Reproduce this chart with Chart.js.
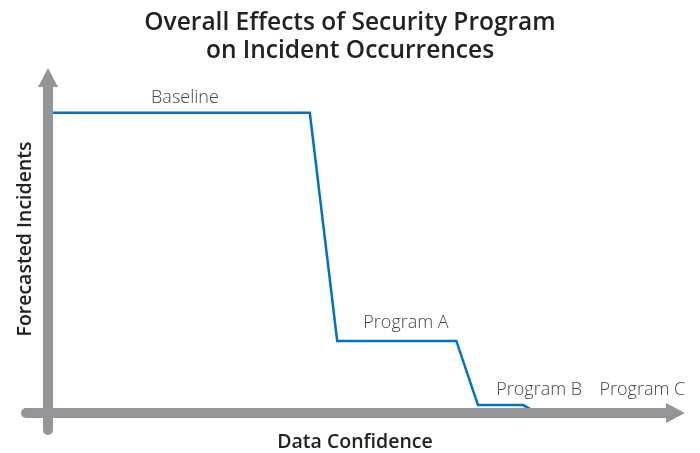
<!DOCTYPE html>
<html>
<head>
<meta charset="utf-8">
<title>Overall Effects of Security Program</title>
<script src="https://cdn.jsdelivr.net/npm/chart.js@4"></script>
<style>
  html, body { margin: 0; padding: 0; background: #fff; }
  #chart { display: block; }
</style>
</head>
<body>
<canvas id="chart" width="700" height="453"></canvas>
<script>
// step line, arbitrary units (0..100 on both axes)
const confidence = [0, 41.1, 45.4, 64.1, 67.5, 74.6, 76.8, 95];
const incidents = [87, 87, 20.9, 20.9, 2.3, 2.3, 0, 0];

// level labels, placed in data units
const levelNames = ["Baseline", "Program A", "Program B", "Program C"];
const levelX = [21.5, 56.2, 77.1, 93.3];
const levelY = [89.9, 24.6, 5.2, 5.2];

const titleLines = ["Overall Effects of Security Program", "on Incident Occurrences"];
const xTitle = "Data Confidence";
const yTitle = "Forecasted Incidents";

const GRAY = "#939598";
const BLUE = "#0071c5";

const decorPlugin = {
  id: "decor",
  afterDatasetsDraw(chart) {
    const ctx = chart.ctx;
    const xs = chart.scales.x, ys = chart.scales.y;
    const area = chart.chartArea;
    const x0 = xs.getPixelForValue(0);
    const y0 = ys.getPixelForValue(0);

    ctx.save();
    // axes
    ctx.strokeStyle = GRAY;
    ctx.fillStyle = GRAY;
    ctx.lineWidth = 10;
    ctx.lineCap = "round";
    ctx.beginPath();
    ctx.moveTo(area.left - 22, y0);
    ctx.lineTo(area.right - 18, y0);
    ctx.stroke();
    ctx.beginPath();
    ctx.moveTo(x0, area.bottom + 17);
    ctx.lineTo(x0, area.top + 19);
    ctx.stroke();

    // arrow heads
    ctx.beginPath();
    ctx.moveTo(area.right, y0);
    ctx.lineTo(area.right - 19, y0 - 10);
    ctx.lineTo(area.right - 19, y0 + 10);
    ctx.closePath();
    ctx.fill();
    ctx.beginPath();
    ctx.moveTo(x0, area.top);
    ctx.lineTo(x0 - 10, area.top + 19);
    ctx.lineTo(x0 + 10, area.top + 19);
    ctx.closePath();
    ctx.fill();

    // level labels
    ctx.fillStyle = "#444";
    ctx.font = "300 18px 'Open Sans', sans-serif";
    ctx.textAlign = "center";
    ctx.textBaseline = "alphabetic";
    levelNames.forEach((name, i) => {
      ctx.fillText(name, xs.getPixelForValue(levelX[i]), ys.getPixelForValue(levelY[i]));
    });

    // titles
    ctx.fillStyle = "#222";
    ctx.font = "600 24.5px 'Open Sans', sans-serif";
    ctx.fillText(titleLines[0], 350, 30);
    ctx.fillText(titleLines[1], 350, 58);

    ctx.font = "600 19.5px 'Open Sans', sans-serif";
    ctx.fillText(xTitle, 355, 448);

    ctx.translate(31, 239);
    ctx.rotate(-Math.PI / 2);
    ctx.fillText(yTitle, 0, 0);
    ctx.restore();
  }
};

new Chart(document.getElementById("chart"), {
  type: "line",
  data: {
    datasets: [{
      data: confidence.map((x, i) => ({ x: x, y: incidents[i] })),
      borderColor: BLUE,
      borderWidth: 2.5,
      pointRadius: 0,
      tension: 0,
      fill: false
    }]
  },
  options: {
    responsive: false,
    animation: false,
    layout: { padding: { left: 48, right: 15, top: 68, bottom: 40 } },
    scales: {
      x: { type: "linear", min: 0, max: 100, display: false },
      y: { type: "linear", min: 0, max: 100, display: false }
    },
    plugins: {
      legend: { display: false },
      tooltip: { enabled: false }
    }
  },
  plugins: [decorPlugin]
});
</script>
</body>
</html>
